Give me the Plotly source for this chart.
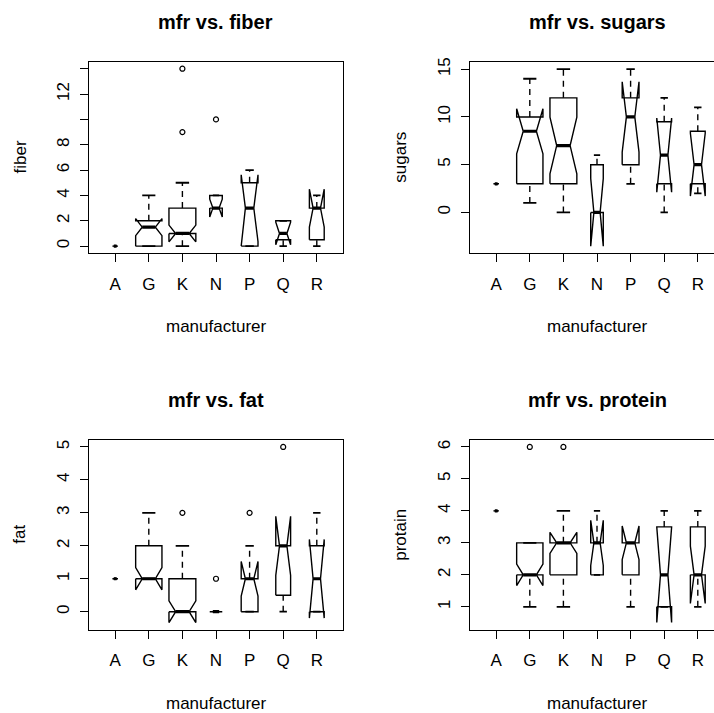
import math
import plotly.graph_objects as go

# ---------------- data (summary statistics) ----------------
manufacturers = ["A", "G", "K", "N", "P", "Q", "R"]
group_n = [1, 22, 23, 5, 9, 7, 7]

fiber_low = [0, 0, 0, 3, 0, 0, 0]
fiber_q1 = [0, 0, 1, 3, 0, 0.5, 0.5]
fiber_med = [0, 1.5, 1, 3, 3, 1, 3]
fiber_q3 = [0, 2, 3, 4, 5, 2, 3]
fiber_high = [0, 4, 5, 4, 6, 2, 4]
fiber_out = [[], [], [9, 14], [10], [], [], []]

sugars_low = [3, 1, 0, 0, 3, 0, 2]
sugars_q1 = [3, 3, 3, 0, 5, 3, 3]
sugars_med = [3, 8.5, 7, 0, 10, 6, 5]
sugars_q3 = [3, 10, 12, 5, 12, 9.5, 8.5]
sugars_high = [3, 14, 15, 6, 15, 12, 11]
sugars_out = [[], [], [], [], [], [], []]

fat_low = [1, 1, 0, 0, 0, 0, 0]
fat_q1 = [1, 1, 0, 0, 0, 0.5, 0]
fat_med = [1, 1, 0, 0, 1, 2, 1]
fat_q3 = [1, 2, 1, 0, 1, 2, 2]
fat_high = [1, 3, 2, 0, 2, 2, 3]
fat_out = [[], [], [3], [1], [3], [5], []]

protein_low = [4, 1, 1, 2, 1, 1, 1]
protein_q1 = [4, 2, 2, 2, 2, 1, 2]
protein_med = [4, 2, 3, 3, 3, 2, 2]
protein_q3 = [4, 3, 3, 3, 3, 3.5, 3.5]
protein_high = [4, 3, 4, 4, 3, 4, 4]
protein_out = [[], [6], [6], [], [], [], []]

fiber_ticks = [0, 2, 4, 6, 8, 10, 12, 14]
fiber_ticktext = ["0", "2", "4", "6", "8", "", "12", ""]
sugars_ticks = [0, 5, 10, 15]
fat_ticks = [0, 1, 2, 3, 4, 5]
protein_ticks = [1, 2, 3, 4, 5, 6]

titles = ["mfr vs. fiber", "mfr vs. sugars", "mfr vs. fat", "mfr vs. protein"]
ylabels = ["fiber", "sugars", "fat", "protain"]
xlabel = "manufacturer"

# ---------------- layout geometry ----------------
W, H = 714, 713
FONT = "Liberation Sans, Arial, Helvetica, sans-serif"
LW = 1.4
BOXW = 254  # full plot-box width in px (right column is cut by the page edge)

panels = [
    dict(stats=(fiber_low, fiber_q1, fiber_med, fiber_q3, fiber_high, fiber_out),
         ticks=fiber_ticks, ticktext=fiber_ticktext, left=89, top=57, bottom=250),
    dict(stats=(sugars_low, sugars_q1, sugars_med, sugars_q3, sugars_high, sugars_out),
         ticks=sugars_ticks, ticktext=[str(v) for v in sugars_ticks], left=470, top=57.5, bottom=250),
    dict(stats=(fat_low, fat_q1, fat_med, fat_q3, fat_high, fat_out),
         ticks=fat_ticks, ticktext=[str(v) for v in fat_ticks], left=89, top=438, bottom=629),
    dict(stats=(protein_low, protein_q1, protein_med, protein_q3, protein_high, protein_out),
         ticks=protein_ticks, ticktext=[str(v) for v in protein_ticks], left=470, top=438, bottom=629),
]

fig = go.Figure()
layout = dict(width=W, height=H, margin=dict(l=0, r=0, t=0, b=0),
              paper_bgcolor="white", plot_bgcolor="white", showlegend=False,
              font=dict(family=FONT, color="black", size=17))
annotations = []

ncat = len(manufacturers)
x_lo = 0.5 - 0.04 * ncat
x_hi = ncat + 0.5 + 0.04 * ncat
px_per_unit = BOXW / (x_hi - x_lo)
max_n = max(group_n)

for k, p in enumerate(panels):
    low, q1, med, q3, high, outs = p["stats"]
    sfx = "" if k == 0 else str(k + 1)
    xa, ya = "x" + sfx, "y" + sfx

    conf_lo, conf_hi = [], []
    for i in range(ncat):
        half = 1.58 * (q3[i] - q1[i]) / math.sqrt(group_n[i])
        conf_lo.append(med[i] - half)
        conf_hi.append(med[i] + half)

    allv = low + high + conf_lo + conf_hi + [v for o in outs for v in o]
    ymin, ymax = min(allv), max(allv)
    ext = 0.04 * (ymax - ymin)
    yrange = [ymin - ext, ymax + ext]

    right_px = p["left"] + BOXW
    dom_r = min(right_px, W)
    xr_hi = x_lo + (dom_r - p["left"]) / px_per_unit
    clipped = right_px > W

    for i in range(ncat):
        x = i + 1
        wid = 0.8 * math.sqrt(group_n[i] / max_n) / 2
        xs = [x - wid, x + wid, x + wid, x + 0.5 * wid, x + wid, x + wid,
              x - wid, x - wid, x - 0.5 * wid, x - wid, x - wid]
        ys = [q1[i], q1[i], conf_lo[i], med[i], conf_hi[i], q3[i],
              q3[i], conf_hi[i], med[i], conf_lo[i], q1[i]]
        fig.add_trace(go.Scatter(x=xs, y=ys, mode="lines", xaxis=xa, yaxis=ya,
                                 line=dict(color="black", width=LW), hoverinfo="skip"))
        # whiskers (dashed)
        for a, b in ((low[i], q1[i]), (q3[i], high[i])):
            if a != b:
                fig.add_trace(go.Scatter(x=[x, x], y=[a, b], mode="lines", xaxis=xa, yaxis=ya,
                                         line=dict(color="black", width=LW, dash="6px,5px"),
                                         hoverinfo="skip"))
        # staples
        for v in (low[i], high[i]):
            fig.add_trace(go.Scatter(x=[x - 0.5 * wid, x + 0.5 * wid], y=[v, v], mode="lines",
                                     xaxis=xa, yaxis=ya,
                                     line=dict(color="black", width=LW + 0.4), hoverinfo="skip"))
        # median
        fig.add_trace(go.Scatter(x=[x - 0.5 * wid, x + 0.5 * wid], y=[med[i], med[i]], mode="lines",
                                 xaxis=xa, yaxis=ya,
                                 line=dict(color="black", width=3.2), hoverinfo="skip"))
        # outliers
        if outs[i]:
            fig.add_trace(go.Scatter(x=[x] * len(outs[i]), y=outs[i], mode="markers",
                                     xaxis=xa, yaxis=ya,
                                     marker=dict(symbol="circle-open", size=5, color="black",
                                                 line=dict(width=1.2, color="black")),
                                     hoverinfo="skip"))

    xdom = [p["left"] / W, dom_r / W]
    ydom = [1 - p["bottom"] / H, 1 - p["top"] / H]
    layout["xaxis" + sfx] = dict(
        domain=xdom, range=[x_lo, xr_hi], anchor=ya, tickmode="array",
        tickvals=list(range(1, ncat + 1)), ticktext=manufacturers,
        ticks="outside", ticklen=8, tickwidth=1, tickcolor="black",
        showline=True, linecolor="black", linewidth=1, mirror=True,
        showgrid=False, zeroline=False, fixedrange=True,
        tickfont=dict(family=FONT, size=17, color="black"), ticklabelstandoff=7)
    layout["yaxis" + sfx] = dict(
        domain=ydom, range=yrange, anchor=xa, tickmode="array",
        tickvals=p["ticks"], ticktext=p["ticktext"], tickangle=-90,
        ticks="outside", ticklen=8, tickwidth=1, tickcolor="black",
        showline=True, linecolor="black", linewidth=1, mirror=not clipped,
        showgrid=False, zeroline=False, fixedrange=True,
        tickfont=dict(family=FONT, size=17, color="black"), ticklabelstandoff=4)

    cx = (p["left"] + right_px) / 2
    cy = (p["top"] + p["bottom"]) / 2
    annotations.append(dict(text="<b>%s</b>" % titles[k], x=cx / W, y=1 - (p["top"] - 40) / H,
                            xref="paper", yref="paper", showarrow=False,
                            xanchor="center", yanchor="middle",
                            font=dict(family=FONT, size=20, color="black")))
    annotations.append(dict(text=xlabel, x=cx / W, y=1 - (p["bottom"] + 74) / H,
                            xref="paper", yref="paper", showarrow=False,
                            xanchor="center", yanchor="middle",
                            font=dict(family=FONT, size=17, color="black")))
    annotations.append(dict(text=ylabels[k], x=(p["left"] - 69) / W, y=1 - cy / H,
                            xref="paper", yref="paper", showarrow=False, textangle=-90,
                            xanchor="center", yanchor="middle",
                            font=dict(family=FONT, size=17, color="black")))

layout["annotations"] = annotations
fig.update_layout(**layout)
fig.write_html("out.html",
               config={"displayModeBar": False, "staticPlot": True},
               post_script="document.body.style.margin='0px';document.body.style.overflow='hidden';")
